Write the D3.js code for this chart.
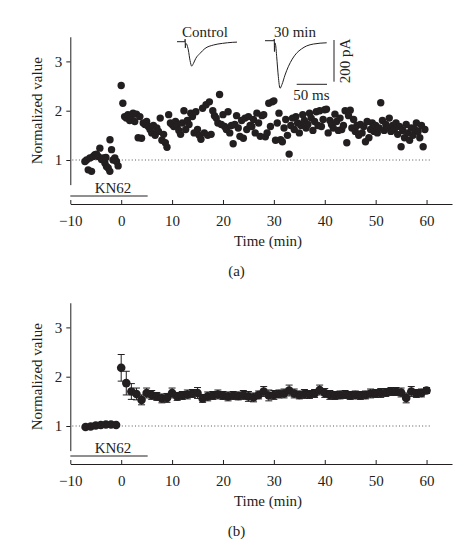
<!DOCTYPE html>
<html><head><meta charset="utf-8">
<script src="https://cdn.jsdelivr.net/npm/d3@7"></script>
<style>html,body{margin:0;padding:0;background:#fff}</style>
</head><body><svg id="c" width="476" height="549" font-family="'Liberation Serif', 'DejaVu Serif', serif"></svg>
<script>
// ---------- data ----------
const xTicks = [-10, 0, 10, 20, 30, 40, 50, 60];
const yTicks = [1, 2, 3];
const drugLabel = "KN62";
const drugRange = [-10, 5.2];
const xTitle = "Time (min)";
const yTitle = "Normalized value";
const panelLabels = ["(a)", "(b)"];

// panel (a): single experiment
const timeA = [
 -7.13,-6.8,-6.48,-6.15,-5.83,-5.5,-5.17,-4.85,-4.52,-4.19,-3.86,-3.54,-3.21,-3.0,-2.89,-2.56,-2.23,-2.2,-1.9,-1.6,-1.25,-0.92,-0.6,
 0,0.33,0.67,1,1.33,1.67,2,2.33,2.67,3,3.33,3.67,4,4.33,4.67,5,5.33,5.67,6,6.33,6.67,7,7.33,7.67,8,8.33,8.67,9,9.33,9.67,
 10,10.33,10.67,11,11.33,11.67,12,12.33,12.67,13,13.33,13.67,14,14.33,14.67,15,15.33,15.67,16,16.33,16.67,17,17.33,17.67,18,18.33,18.67,19,19.33,19.67,
 20,20.33,20.67,21,21.33,21.67,22,22.33,22.67,23,23.33,23.67,24,24.33,24.67,25,25.33,25.67,26,26.33,26.67,27,27.33,27.67,28,28.33,28.67,29,29.33,29.67,
 30,30.33,30.67,31,31.33,31.67,32,32.33,32.67,33,33.33,33.67,34,34.33,34.67,35,35.33,35.67,36,36.33,36.67,37,37.33,37.67,38,38.33,38.67,39,39.33,39.67,
 40,40.33,40.67,41,41.33,41.67,42,42.33,42.67,43,43.33,43.67,44,44.33,44.67,45,45.33,45.67,46,46.33,46.67,47,47.33,47.67,48,48.33,48.67,49,49.33,49.67,
 50,50.33,50.67,51,51.33,51.67,52,52.33,52.67,53,53.33,53.67,54,54.33,54.67,55,55.33,55.67,56,56.33,56.67,57,57.33,57.67,58,58.33,58.67,59,59.33,59.67
];
const valueA = [
 0.97,1.0,0.80,1.04,0.77,1.07,1.11,1.12,1.07,1.24,1.01,1.04,0.94,1.05,0.87,0.84,0.77,1.41,1.21,1.0,1.04,0.97,0.88,
 2.51,2.15,1.88,1.85,1.92,1.80,1.90,1.95,1.78,1.93,1.45,1.88,1.44,1.75,1.72,1.78,1.68,1.62,1.55,1.70,1.50,1.65,1.58,1.85,1.40,1.52,1.35,1.26,1.92,1.75,
 1.72,1.68,1.78,1.70,1.60,1.52,1.75,2.00,1.62,1.80,1.72,1.95,1.88,1.55,1.98,1.62,1.50,1.42,2.05,1.55,2.12,1.50,2.18,1.52,2.00,1.90,1.85,1.75,2.33,1.72,
 1.92,1.68,1.62,1.98,1.55,1.70,1.33,1.72,1.90,1.65,1.48,1.80,1.44,1.85,1.62,1.88,1.70,1.68,1.82,1.55,1.95,1.75,1.48,1.90,1.92,1.47,1.55,2.15,1.68,2.18,
 2.20,1.40,1.75,1.95,1.41,1.37,1.65,1.82,1.50,1.12,1.70,1.85,1.62,1.88,1.75,1.55,1.70,1.92,1.80,1.65,1.72,1.95,1.85,1.60,1.78,1.98,1.70,2.00,1.68,1.82,
 2.02,2.03,1.55,1.80,1.72,1.65,1.93,1.78,1.60,1.85,1.62,1.70,2.00,1.35,1.90,2.01,1.65,1.82,1.58,1.70,1.50,1.72,1.55,1.68,1.37,1.78,1.45,1.62,1.75,1.58,
 1.70,1.55,1.65,2.16,1.80,1.60,1.72,1.65,1.85,1.58,1.70,1.62,1.75,1.52,1.68,1.27,1.60,1.45,1.72,1.55,1.40,1.65,1.50,1.62,1.75,1.58,1.45,1.70,1.27,1.62
];

// panel (b): mean ± SEM
const timeB = [-7,-6,-5,-4,-3,-2,-1,
 0,1,2,3,4,5,6,7,8,9,10,11,12,13,14,15,16,17,18,19,20,21,22,23,24,25,26,27,28,29,30,
 31,32,33,34,35,36,37,38,39,40,41,42,43,44,45,46,47,48,49,50,51,52,53,54,55,56,57,58,59,60];
const meanB = [0.98,0.99,1.01,1.02,1.03,1.03,1.02,
 2.18,1.87,1.70,1.65,1.53,1.67,1.63,1.60,1.56,1.57,1.67,1.60,1.62,1.64,1.66,1.67,1.56,1.60,1.62,1.64,1.62,1.60,1.62,1.61,1.63,1.60,1.58,1.63,1.70,1.62,1.63,
 1.65,1.66,1.72,1.66,1.63,1.65,1.64,1.66,1.73,1.67,1.63,1.62,1.63,1.64,1.62,1.63,1.62,1.63,1.66,1.66,1.67,1.68,1.70,1.70,1.68,1.57,1.70,1.66,1.67,1.72];
const semB = [0.03,0.03,0.03,0.03,0.03,0.03,0.03,
 0.27,0.24,0.16,0.12,0.10,0.10,0.09,0.08,0.09,0.09,0.10,0.08,0.08,0.09,0.08,0.11,0.08,0.09,0.08,0.09,0.08,0.09,0.08,0.08,0.09,0.10,0.09,0.08,0.10,0.11,0.09,
 0.08,0.09,0.11,0.09,0.08,0.09,0.08,0.08,0.10,0.09,0.09,0.08,0.08,0.08,0.08,0.08,0.08,0.08,0.09,0.08,0.09,0.08,0.08,0.08,0.09,0.10,0.10,0.08,0.08,0.06];

// inset EPSC traces (ms, pA)
const controlMs = [0,13,13.4,13.8,14.4,16,18.7,21.5,24.2,27,31,38,46,60,75,92,99];
const controlPA = [0,0,12,-30,-8,-12,-40,-90,-117,-105,-80,-56,-33,-16,-8,-3,-2];
const lateMs = [0,15,15.3,15.6,16.2,17.5,19.3,22,24.8,28,33,38.4,45,52,60,68.8,80,101.8];
const latePA = [0,0,8,-52,-10,-20,-77,-172,-228,-210,-165,-125,-88,-60,-40,-25,-16,-10];
const traceLabels = ["Control", "30 min"];
const scaleBarMs = 50, scaleBarPA = 200;

// ---------- drawing ----------
const FONT = "'Liberation Serif', 'DejaVu Serif', serif";
const svg = d3.select("#c");
const ink = "#231f20";
const FS = 15;

function txt(sel) { return sel.attr("font-family", FONT).attr("font-size", FS).attr("fill", ink); }

function panel(opt) {
  const x = d3.scaleLinear().domain([-10, 65]).range([70.3, 452]);
  const y = d3.scaleLinear().domain([0.5, 3.5]).range([opt.yBottom, opt.yBottom - 147.9]);
  const g = svg.append("g");

  const ya = g.append("g").attr("transform", "translate(70.3,0)")
    .call(d3.axisLeft(y).tickValues(yTicks).tickSizeInner(4).tickSizeOuter(0).tickPadding(4).tickFormat(d3.format("d")));
  ya.attr("color", ink).attr("font-size", FS).attr("font-family", FONT);
  ya.selectAll("path,line").attr("stroke-width", 1);

  const xa = g.append("g").attr("transform", `translate(0,${opt.xAxisY})`)
    .call(d3.axisBottom(x).tickValues(xTicks).tickSizeInner(-4).tickSizeOuter(0).tickFormat(d3.format("d")));
  xa.attr("color", ink).attr("font-size", FS).attr("font-family", FONT);
  xa.selectAll("path,line").attr("stroke-width", 1);
  xa.selectAll("text").attr("y", 22).attr("dy", 0);

  g.append("line").attr("x1", x(-9.6)).attr("x2", x(61)).attr("y1", y(1)).attr("y2", y(1))
    .attr("stroke", "#555").attr("stroke-width", 1).attr("stroke-dasharray", "1,2.3");

  g.append("line").attr("x1", x(drugRange[0])).attr("x2", x(drugRange[1]))
    .attr("y1", opt.drugY).attr("y2", opt.drugY).attr("stroke", ink).attr("stroke-width", 1);
  txt(g.append("text")).attr("x", x(-1.6)).attr("y", opt.drugY - 3).attr("text-anchor", "middle").text(drugLabel);

  txt(g.append("text")).attr("transform", `translate(41.5,${y(2.0)}) rotate(-90)`)
    .attr("text-anchor", "middle").text(yTitle);
  txt(g.append("text")).attr("x", 268).attr("y", opt.xAxisY + 42).attr("text-anchor", "middle").text(xTitle);
  txt(g.append("text")).attr("x", 236.5).attr("y", opt.xAxisY + 72).attr("text-anchor", "middle").text(opt.label);
  return {g, x, y};
}

// Panel (a)
const A = panel({yBottom: 184.65, xAxisY: 204, drugY: 196, label: panelLabels[0]});
A.g.append("g").selectAll("circle").data(timeA.map((t, i) => [t, valueA[i]])).join("circle")
  .attr("cx", d => A.x(d[0])).attr("cy", d => A.y(d[1])).attr("r", 3.7).attr("fill", ink);

// Panel (b)
const B = panel({yBottom: 450.65, xAxisY: 464, drugY: 456, label: panelLabels[1]});
const bData = timeB.map((t, i) => ({t, m: meanB[i], s: semB[i]}));
const eb = B.g.append("g").attr("stroke", ink).attr("stroke-width", 1);
eb.selectAll("line.v").data(bData).join("line").attr("class", "v")
  .attr("x1", d => B.x(d.t)).attr("x2", d => B.x(d.t))
  .attr("y1", d => B.y(d.m - d.s)).attr("y2", d => B.y(d.m + d.s));
eb.selectAll("line.t").data(bData).join("line").attr("class", "t")
  .attr("x1", d => B.x(d.t) - 3.5).attr("x2", d => B.x(d.t) + 3.5)
  .attr("y1", d => B.y(d.m + d.s)).attr("y2", d => B.y(d.m + d.s));
eb.selectAll("line.b").data(bData).join("line").attr("class", "b")
  .attr("x1", d => B.x(d.t) - 3.5).attr("x2", d => B.x(d.t) + 3.5)
  .attr("y1", d => B.y(d.m - d.s)).attr("y2", d => B.y(d.m - d.s));
B.g.append("g").selectAll("circle").data(bData).join("circle")
  .attr("cx", d => B.x(d.t)).attr("cy", d => B.y(d.m)).attr("r", 4.3).attr("fill", ink);

// Inset traces
const msPx = d3.scaleLinear().domain([0, 50]).range([0, 30.3]);
const paPx = d3.scaleLinear().domain([0, -200]).range([0, 41.7]);
function trace(ms, pa, x0, y0) {
  const line = d3.line().x(d => x0 + msPx(d[0])).y(d => y0 + paPx(d[1])).curve(d3.curveMonotoneX);
  svg.append("path").attr("d", line(ms.map((m, i) => [m, pa[i]])))
    .attr("fill", "none").attr("stroke", ink).attr("stroke-width", 1);
}
trace(controlMs, controlPA, 177, 41.7);
trace(lateMs, latePA, 265, 40.7);
txt(svg.append("text")).attr("x", 205).attr("y", 36.5).attr("text-anchor", "middle").text(traceLabels[0]);
txt(svg.append("text")).attr("x", 295).attr("y", 36.5).attr("text-anchor", "middle").text(traceLabels[1]);

// scale bars
svg.append("line").attr("x1", 334).attr("x2", 334).attr("y1", 40).attr("y2", 40 + paPx(-scaleBarPA))
  .attr("stroke", ink).attr("stroke-width", 1);
svg.append("line").attr("x1", 327 - msPx(scaleBarMs)).attr("x2", 327).attr("y1", 84.3).attr("y2", 84.3)
  .attr("stroke", ink).attr("stroke-width", 1);
txt(svg.append("text")).attr("x", 311.5).attr("y", 100).attr("text-anchor", "middle").text(scaleBarMs + " ms");
txt(svg.append("text")).attr("transform", "translate(350,61) rotate(-90)").attr("text-anchor", "middle")
  .text(scaleBarPA + " pA");
</script></body></html>
